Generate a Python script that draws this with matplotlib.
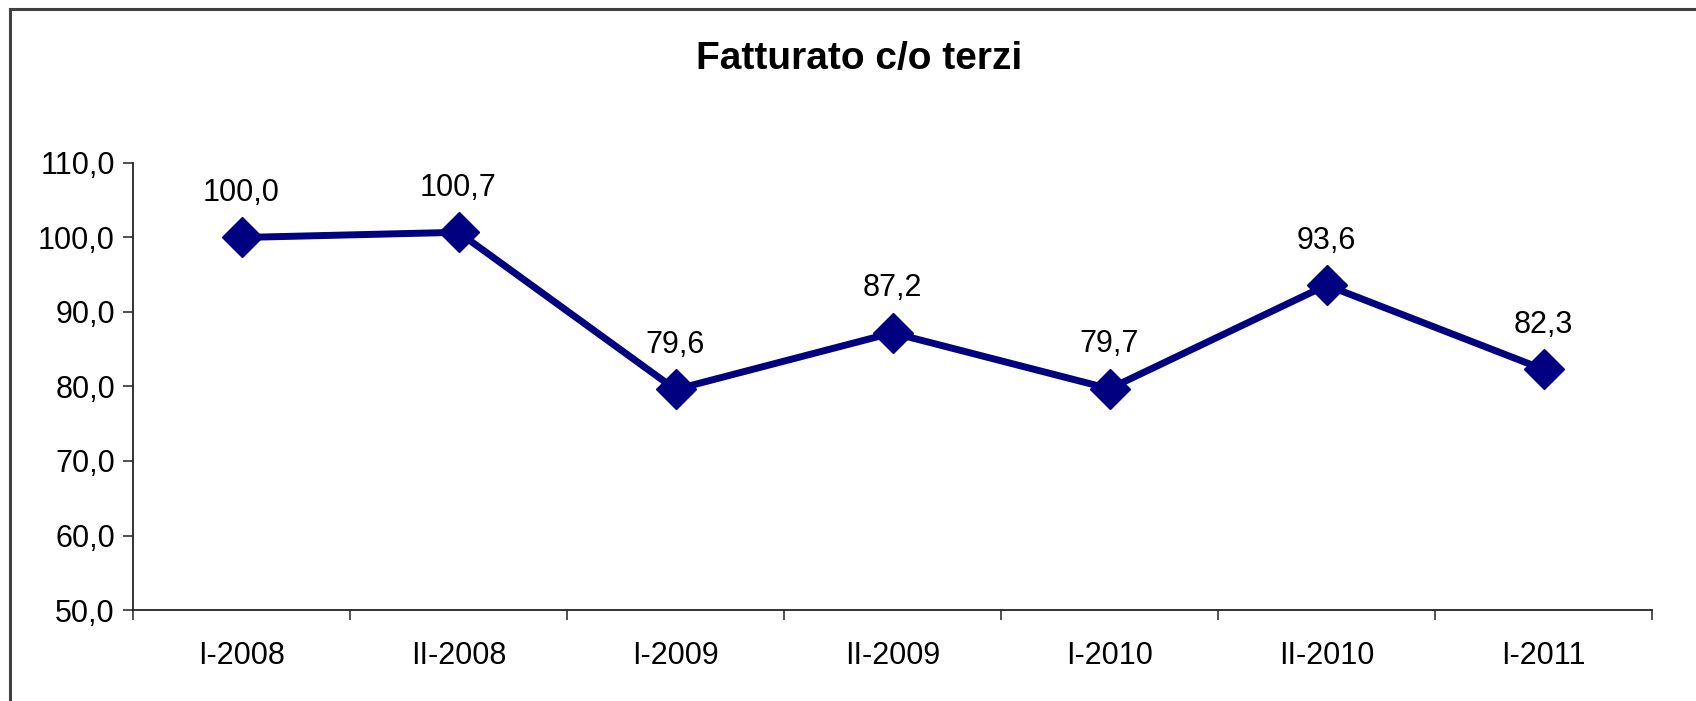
import numpy as np
import matplotlib.pyplot as plt
from matplotlib.lines import Line2D
from matplotlib.ticker import FixedLocator

plt.rcParams['font.family'] = ['Liberation Sans', 'DejaVu Sans']

periodi = ["I-2008", "II-2008", "I-2009", "II-2009", "I-2010", "II-2010", "I-2011"]
valori = [100.0, 100.7, 79.6, 87.2, 79.7, 93.6, 82.3]
y_ticks = [50, 60, 70, 80, 90, 100, 110]

fig = plt.figure(figsize=(16.96, 7.01), dpi=100)
ax = fig.add_axes([133 / 1696, 1 - 610 / 701, (1652 - 133) / 1696, (610 - 163) / 701])

x = np.arange(len(periodi))
ax.plot(x, valori, color='#000080', lw=5, marker='D', ms=20, mec='#000080', mfc='#000080',
        clip_on=False, zorder=3)
for xi, v in zip(x, valori):
    ax.annotate(f"{v:.1f}".replace('.', ','), (xi, v), xytext=(0, 32), textcoords='offset points',
                ha='center', va='center', fontsize=22)

ax.set_xlim(-0.5, len(periodi) - 0.5)
ax.set_ylim(50, 110)
ax.set_yticks(y_ticks)
ax.set_yticklabels([f"{t:.1f}".replace('.', ',') for t in y_ticks])

# tick sui confini, etichette al centro
ax.xaxis.set_major_locator(FixedLocator(np.arange(-0.5, len(periodi), 1.0)))
ax.xaxis.set_major_formatter(plt.NullFormatter())
ax.xaxis.set_minor_locator(FixedLocator(x))
ax.set_xticklabels(periodi, minor=True)
ax.tick_params(axis='x', which='major', direction='out', length=7, width=1.2, color='#333333')
ax.tick_params(axis='x', which='minor', length=0, pad=22, labelsize=22)
ax.tick_params(axis='y', direction='out', length=7, width=1.2, color='#333333', pad=6, labelsize=22)

for s in ['top', 'right']:
    ax.spines[s].set_visible(False)
for s in ['left', 'bottom']:
    ax.spines[s].set_color('#222222')
    ax.spines[s].set_linewidth(1.3)

fig.text(859 / 1696, 1 - 59 / 701, "Fatturato c/o terzi", ha='center', va='center',
         fontsize=28, fontweight='bold')

# bordo dell'area grafico (solo alto e sinistra visibili)
fig.add_artist(Line2D([10 / 1696, 1.0], [1 - 9 / 701, 1 - 9 / 701], color='#404040', lw=2.2,
                      transform=fig.transFigure))
fig.add_artist(Line2D([10 / 1696, 10 / 1696], [0, 1 - 9 / 701], color='#404040', lw=2.2,
                      transform=fig.transFigure))

fig.savefig("out.png", dpi=100)
